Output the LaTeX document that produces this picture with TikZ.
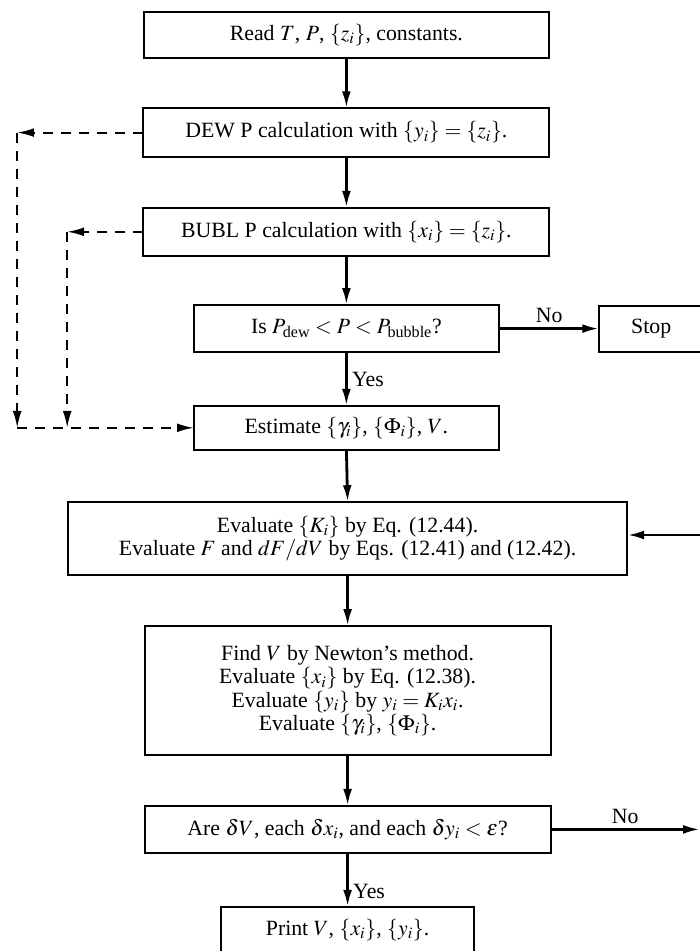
\documentclass[tikz,border=0pt]{standalone}
\usepackage{amsmath}
\usepackage{mathptmx}
\usepackage{fontspec}
\setmainfont{Liberation Serif}
\usetikzlibrary{arrows.meta,positioning,calc}
\tikzset{box/.style={draw, align=center, inner sep=3pt, outer sep=0pt, line width=1.3pt}}
\tikzset{arr/.style={-{Latex[length=4.2mm,width=2.2mm]}, line width=2pt}}
\tikzset{darr/.style={-{Latex[length=4.2mm,width=2.2mm]}, line width=1.3pt, dash pattern=on 2.5mm off 2mm}}
\tikzset{invis/.style={draw=none, fill=none, align=center}}

\begin{document}
\begin{tikzpicture}[x=1cm, y=1cm, font={\fontsize{15.5}{16.6}\selectfont}]
        \useasboundingbox (0,0) rectangle (17.5,23.775);

        %%% MAIN COLUMN %%%
        \node[box, minimum width=10.13cm, minimum height=1.15cm] (read) at (8.66,22.90)
            {Read $T$, $P$, $\{z_i\}$, constants.};
        \node[box, minimum width=10.15cm, minimum height=1.22cm] (dew) at (8.66,20.46)
            {DEW P calculation with $\{y_i\}=\{z_i\}$.};
        \node[box, minimum width=10.15cm, minimum height=1.20cm] (bubl) at (8.66,17.98)
            {BUBL P calculation with $\{x_i\}=\{z_i\}$.};
        \node[box, minimum width=7.63cm, minimum height=1.18cm] (test) at (8.66,15.56)
            {Is $P_{\text{dew}} < P < P_{\text{bubble}}$?};
        \node[box, minimum width=2.60cm, minimum height=1.15cm] (stop) at (16.28,15.56) {Stop};
        \node[box, minimum width=7.63cm, minimum height=1.10cm] (est) at (8.66,13.08)
            {Estimate $\{\gamma_i\}$, $\{\Phi_i\}$, $V$.};
        \node[box, minimum width=13.98cm, minimum height=1.83cm] (evalk) at (8.69,10.31)
            {Evaluate $\{K_i\}$ by Eq. (12.44).\\Evaluate $F$ and $dF/dV$ by Eqs. (12.41) and (12.42).};
        \node[box, minimum width=10.15cm, minimum height=3.23cm] (newton) at (8.69,6.51)
            {Find $V$ by Newton's method.\\Evaluate $\{x_i\}$ by Eq. (12.38).\\Evaluate $\{y_i\}$ by $y_i = K_i x_i$.\\Evaluate $\{\gamma_i\}$, $\{\Phi_i\}$.};
        \node[box, minimum width=10.15cm, minimum height=1.18cm] (conv) at (8.69,3.04)
            {Are $\delta V$, each $\delta x_i$, and each $\delta y_i < \varepsilon$?};
        \node[box, minimum width=6.33cm, minimum height=1.15cm] (print) at (8.69,0.53)
            {Print $V$, $\{x_i\}$, $\{y_i\}$.};

        %%% LOOP ENDS %%%
        \coordinate (dt) at (0.43,20.46);
        \coordinate (db) at (0.43,13.08);
        \coordinate (bt) at (1.68,17.98);
        \coordinate (bb) at (1.68,13.08);
        \coordinate (kin) at (17.6,10.40);
        \coordinate (nout) at (17.5,3.04);

        %%% ARROWS %%%
        \draw[arr] (read.south) -- (dew.north);
        \draw[arr] (dew.south) -- (bubl.north);
        \draw[arr] (bubl.south) -- (test.north);
        \draw[arr] (test.east) -- (stop.west) node[midway, above, invis] {No};
        \draw[arr] (test.south) -- (est.north) node[midway, right, invis, inner sep=3pt] {Yes};
        \draw[arr] (est.south) -- (evalk.north);
        \draw[arr] (evalk.south) -- (newton.north);
        \draw[arr] (newton.south) -- (conv.north);
        \draw[arr] (kin) -- (kin -| evalk.east);
        \draw[arr] (conv.east) -- (nout) node[midway, above, invis] {No};
        \draw[arr] (conv.south) -- (print.north) node[pos=0.72, right, invis, inner sep=3pt] {Yes};

        %%% DASHED BRANCHES %%%
        \draw[darr] (dew.west) -- (dt);
        \draw[darr] (dt) -- (db);
        \draw[darr] (bubl.west) -- (bt);
        \draw[darr] (bt) -- (bb);
        \draw[darr] (db) -- (est.west);
\end{tikzpicture}
\end{document}
